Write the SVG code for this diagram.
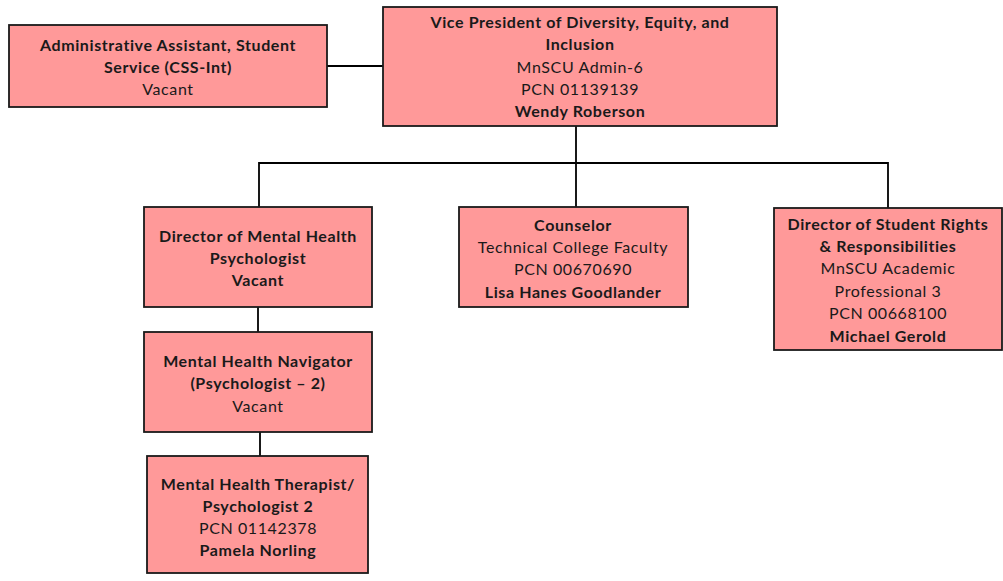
<svg xmlns="http://www.w3.org/2000/svg" width="1003" height="581" viewBox="0 0 1003 581">
  <style>
    .box { fill: #ff9999; stroke: #1a1a1a; stroke-width: 1.8; }
    .conn { fill: none; stroke: #000; stroke-width: 1.8; }
    text { font-family: "Lato", "Liberation Sans", sans-serif; font-size: 16px; letter-spacing: 0.6px; fill: #1a1a1a; text-anchor: middle; dominant-baseline: central; }
    .b { font-weight: bold; }
  </style>
  <rect width="1003" height="581" fill="#ffffff"/>

  <g id="connectors">
    <line class="conn" x1="327" y1="66" x2="383" y2="66"/>
    <polyline class="conn" points="576,126 576,207"/>
    <polyline class="conn" points="259,207 259,163 888,163 888,208"/>
    <line class="conn" x1="258" y1="307" x2="258" y2="332"/>
    <line class="conn" x1="260" y1="432" x2="260" y2="456"/>
  </g>

  <g id="admin-assistant">
    <rect class="box" x="9" y="25" width="318" height="82"/>
    <text class="b" x="168" y="44">Administrative Assistant, Student</text>
    <text class="b" x="168" y="66">Service (CSS-Int)</text>
    <text x="168" y="88">Vacant</text>
  </g>

  <g id="vp-dei">
    <rect class="box" x="383" y="7" width="394" height="119"/>
    <text class="b" x="580" y="21">Vice President of Diversity, Equity, and</text>
    <text class="b" x="580" y="43">Inclusion</text>
    <text x="580" y="66">MnSCU Admin-6</text>
    <text x="580" y="88">PCN 01139139</text>
    <text class="b" x="580" y="110">Wendy Roberson</text>
  </g>

  <g id="director-mental-health">
    <rect class="box" x="144" y="207" width="228" height="100"/>
    <text class="b" x="258" y="235">Director of Mental Health</text>
    <text class="b" x="258" y="257">Psychologist</text>
    <text class="b" x="258" y="279">Vacant</text>
  </g>

  <g id="counselor">
    <rect class="box" x="459" y="207" width="229" height="100"/>
    <text class="b" x="573" y="224">Counselor</text>
    <text x="573" y="246">Technical College Faculty</text>
    <text x="573" y="268">PCN 00670690</text>
    <text class="b" x="573" y="291">Lisa Hanes Goodlander</text>
  </g>

  <g id="director-student-rights">
    <rect class="box" x="774" y="208" width="228" height="142"/>
    <text class="b" x="888" y="223">Director of Student Rights</text>
    <text class="b" x="888" y="245">&amp; Responsibilities</text>
    <text x="888" y="267">MnSCU Academic</text>
    <text x="888" y="290">Professional 3</text>
    <text x="888" y="312">PCN 00668100</text>
    <text class="b" x="888" y="335">Michael Gerold</text>
  </g>

  <g id="mental-health-navigator">
    <rect class="box" x="144" y="332" width="228" height="100"/>
    <text class="b" x="258" y="360">Mental Health Navigator</text>
    <text class="b" x="258" y="382">(Psychologist – 2)</text>
    <text x="258" y="405">Vacant</text>
  </g>

  <g id="mental-health-therapist">
    <rect class="box" x="147" y="456" width="221" height="117"/>
    <text class="b" x="258" y="483">Mental Health Therapist/</text>
    <text class="b" x="258" y="505">Psychologist 2</text>
    <text x="258" y="527">PCN 01142378</text>
    <text class="b" x="258" y="549">Pamela Norling</text>
  </g>
</svg>
